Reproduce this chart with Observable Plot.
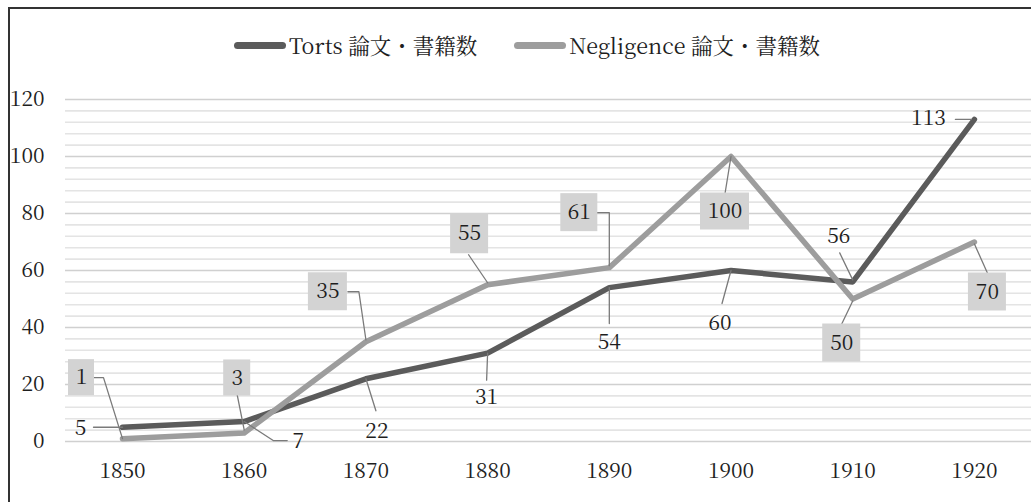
<!DOCTYPE html>
<html>
<head>
<meta charset="utf-8">
<script src="https://cdn.jsdelivr.net/npm/d3@7"></script>
<script src="https://cdn.jsdelivr.net/npm/@observablehq/plot@0.6"></script>
<style>
  html, body { margin: 0; padding: 0; background: #fff; }
  #wrap { position: relative; width: 1031px; height: 502px; overflow: hidden; font-family: "Noto Serif CJK JP", "Liberation Serif", serif; }
  #frame { position: absolute; left: 8px; top: 7px; width: 1100px; height: 600px; border-left: 2px solid #333; border-top: 2px solid #333; pointer-events: none; }
  #chart { position: absolute; left: 0; top: 0; }
  #legend { position: absolute; left: 234px; top: 29px; display: flex; align-items: center; font-size: 21.5px; line-height: 32px; color: #1e1e1e; white-space: nowrap; font-family: "Noto Serif CJK JP", "Liberation Serif", serif; }
  .item { display: flex; align-items: center; margin-right: 37px; }
  .sw { width: 52px; height: 7px; border-radius: 3.5px; margin-right: 3px; }
</style>
</head>
<body>
<div id="wrap">
  <div id="chart"></div>
  <div id="legend"></div>
  <div id="frame"></div>
</div>
<script>
// ---- data ----
const years = [1850, 1860, 1870, 1880, 1890, 1900, 1910, 1920];
const torts = [5, 7, 22, 31, 54, 60, 56, 113];
const negligence = [1, 3, 35, 55, 61, 100, 50, 70];
const seriesNames = ["Torts 論文・書籍数", "Negligence 論文・書籍数"];
const yTicks = [0, 20, 40, 60, 80, 100, 120];
const yMinorStep = 4;

// ---- style / layout ----
const W = 1031, H = 502;
const mL = 65, mR = 0, mT = 99, mB = 61;
const xDomain = [1845.317, 1924.69];
const yDomain = [0, 120];
const colors = ["#5b5b5b", "#9d9d9d"];
const FONT = '"Noto Serif CJK JP", "Liberation Serif", serif';
const TXT = "#1e1e1e";
const FS = 21;

// label placement offsets (pixels relative to the data point)
const negLabelPlace = [
  {box: [-41, -61, 26, 36], lead: [[0, 0], [-19, -61], [-29, -61]]},
  {box: [-7, -55, 27, 36], lead: [[0, -3], [-7, -38]]},
  {box: [-38, -50, 39, 38], lead: [[0, -2], [-7, -50], [-18, -50]]},
  {box: [-18, -51, 38, 40], lead: [[0, -2], [-19, -30]]},
  {box: [-30, -55, 37, 38], lead: [[0, -2], [0, -55], [-12, -55]]},
  {box: [-6, 55, 49, 37], lead: [[0, 0], [-6, 37]]},
  {box: [-11, 44, 38, 38], lead: [[0, 2], [-11, 25]]},
  {box: [13, 50, 38, 38], lead: [[0, 2], [13, 31]]}
];
const tortLabelPlace = [
  {text: [-42, 1], lead: [[0, 0], [-29, 0]]},
  {text: [54, 20], lead: [[0, 0], [29, 19], [43, 19]]},
  {text: [11, 52], lead: [[0, 0], [10, 32]]},
  {text: [-1, 44], lead: [[0, 0], [-1, 27]]},
  {text: [0, 55], lead: [[0, 0], [0, 36]]},
  {text: [-11, 53], lead: [[0, 0], [-9, 33]]},
  {text: [-14, -46], lead: [[0, -2], [-13, -29]]},
  {text: [-46, -1], lead: [[-3, 0], [-19, 0]]}
];

// standalone scales for converting pixel offsets to data coordinates
const xs = Plot.scale({x: {domain: xDomain, range: [mL, W - mR]}});
const ys = Plot.scale({y: {domain: yDomain, range: [H - mB, mT]}});
const off = (year, v, dx, dy) => ({x: xs.invert(xs.apply(year) + dx), y: ys.invert(ys.apply(v) + dy)});

const tortsData = years.map((yr, i) => ({year: yr, value: torts[i], series: seriesNames[0]}));
const negData = years.map((yr, i) => ({year: yr, value: negligence[i], series: seriesNames[1]}));

const leaders = [];
const boxes = [];
const labels = [];
negData.forEach((d, i) => {
  const p = negLabelPlace[i];
  p.lead.forEach(([dx, dy]) => leaders.push({id: "n" + i, ...off(d.year, d.value, dx, dy)}));
  const [cx, cy, w, h] = p.box;
  const a = off(d.year, d.value, cx - w / 2, cy + h / 2);
  const b = off(d.year, d.value, cx + w / 2, cy - h / 2);
  boxes.push({x1: a.x, y1: a.y, x2: b.x, y2: b.y});
  labels.push({...off(d.year, d.value, cx, cy), text: String(d.value)});
});
tortsData.forEach((d, i) => {
  const p = tortLabelPlace[i];
  p.lead.forEach(([dx, dy]) => leaders.push({id: "t" + i, ...off(d.year, d.value, dx, dy)}));
  labels.push({...off(d.year, d.value, p.text[0], p.text[1]), text: String(d.value)});
});

const minorTicks = d3.range(yDomain[0], yDomain[1] + 0.001, yMinorStep).filter(v => !yTicks.includes(v));

const chart = Plot.plot({
  width: W, height: H,
  marginLeft: mL, marginRight: mR, marginTop: mT, marginBottom: mB,
  style: {fontFamily: FONT, background: "transparent", overflow: "visible"},
  x: {domain: xDomain},
  y: {domain: yDomain},
  marks: [
    Plot.ruleY(minorTicks, {stroke: "#e4e4e4", strokeWidth: 1.6}),
    Plot.ruleY(yTicks, {stroke: "#d0d0d0", strokeWidth: 1.6}),
    Plot.axisY({ticks: yTicks, tickSize: 0, tickPadding: 21, fontSize: FS, fill: TXT, label: null, fontFamily: FONT}),
    Plot.axisX({ticks: years, tickFormat: d => String(d), tickSize: 0, tickPadding: 22, fontSize: FS, fill: TXT, label: null, fontFamily: FONT}),
    Plot.line(tortsData, {x: "year", y: "value", stroke: colors[0], strokeWidth: 5.5, strokeLinejoin: "round", strokeLinecap: "round"}),
    Plot.line(negData, {x: "year", y: "value", stroke: colors[1], strokeWidth: 5.5, strokeLinejoin: "round", strokeLinecap: "round"}),
    Plot.line(leaders, {x: "x", y: "y", z: "id", stroke: "#7a7a7a", strokeWidth: 1.3}),
    Plot.rect(boxes, {x1: "x1", x2: "x2", y1: "y1", y2: "y2", fill: "#d3d3d3"}),
    Plot.text(labels, {x: "x", y: "y", text: "text", fontSize: FS, fill: TXT, textAnchor: "middle", lineAnchor: "middle", fontFamily: FONT})
  ]
});
document.getElementById("chart").appendChild(chart);

// legend
const lg = document.getElementById("legend");
seriesNames.forEach((name, i) => {
  const item = document.createElement("div");
  item.className = "item";
  const sw = document.createElement("div");
  sw.className = "sw";
  sw.style.background = colors[i];
  item.appendChild(sw);
  const t = document.createElement("span");
  t.textContent = name;
  item.appendChild(t);
  lg.appendChild(item);
});
</script>
</body>
</html>
